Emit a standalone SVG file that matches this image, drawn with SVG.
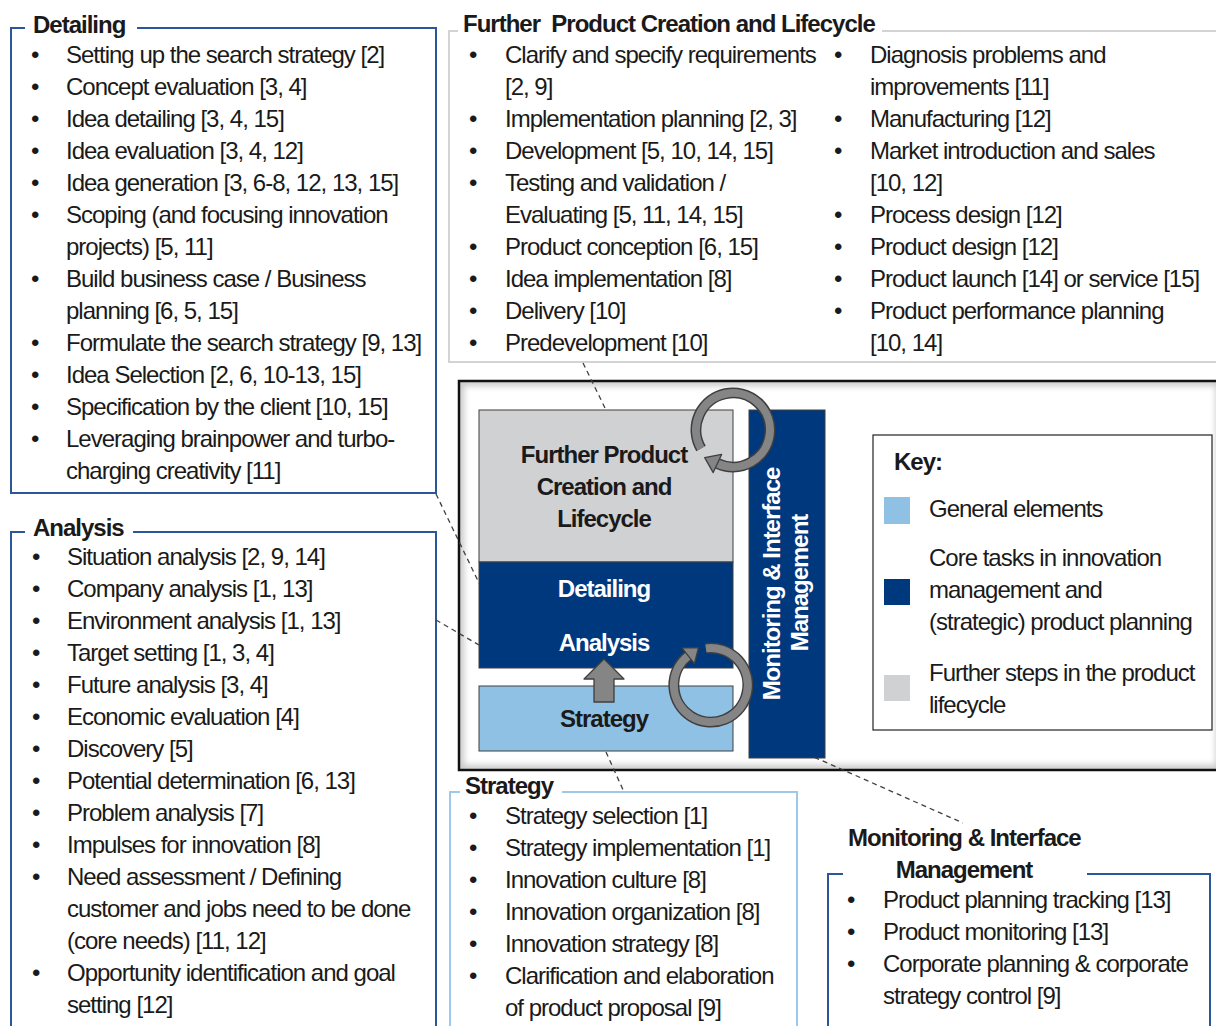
<svg xmlns="http://www.w3.org/2000/svg" width="1216" height="1026" viewBox="0 0 1216 1026">
<style>
text{font-family:"Liberation Sans",Arial,sans-serif;font-size:24px;letter-spacing:-1px;fill:#1a1a1a}
.b{font-weight:bold}
.w{fill:#ffffff}
.m{text-anchor:middle}
.navyline{fill:none;stroke:#2b579a;stroke-width:2}
.grayline{fill:none;stroke:#d3d3d3;stroke-width:2}
.lblueline{fill:none;stroke:#9dc8ea;stroke-width:2}
.dash{fill:none;stroke:#404040;stroke-width:1.3;stroke-dasharray:5 4}
.ringo{fill:none;stroke:#3f3f3f;stroke-width:11}
.ringi{fill:none;stroke:#858585;stroke-width:8}
.head{fill:#858585;stroke:#3f3f3f;stroke-width:1.3;stroke-linejoin:round}
.blk{stroke:#3f3f3f;stroke-width:1}
</style>
<defs>
<filter id="blur" x="-5%" y="-5%" width="110%" height="110%"><feGaussianBlur stdDeviation="3"/></filter>
<clipPath id="frameclip"><rect x="460" y="382" width="760" height="387"/></clipPath>
</defs>
<rect x="0" y="0" width="1216" height="1026" fill="#ffffff"/>

<g id="detailing-panel">
<path class="navyline" d="M25,28 H11 V493 H436 V28 H137"/>
<text class="b" x="33" y="33">Detailing</text>
<g>
<text x="31" y="63">•</text><text x="66" y="63">Setting up the search strategy [2]</text>
<text x="31" y="95">•</text><text x="66" y="95">Concept evaluation [3, 4]</text>
<text x="31" y="127">•</text><text x="66" y="127">Idea detailing [3, 4, 15]</text>
<text x="31" y="159">•</text><text x="66" y="159">Idea evaluation [3, 4, 12]</text>
<text x="31" y="191">•</text><text x="66" y="191">Idea generation [3, 6-8, 12, 13, 15]</text>
<text x="31" y="223">•</text><text x="66" y="223">Scoping (and focusing innovation</text>
<text x="66" y="255">projects) [5, 11]</text>
<text x="31" y="287">•</text><text x="66" y="287">Build business case / Business</text>
<text x="66" y="319">planning [6, 5, 15]</text>
<text x="31" y="351">•</text><text x="66" y="351">Formulate the search strategy [9, 13]</text>
<text x="31" y="383">•</text><text x="66" y="383">Idea Selection [2, 6, 10-13, 15]</text>
<text x="31" y="415">•</text><text x="66" y="415">Specification by the client [10, 15]</text>
<text x="31" y="447">•</text><text x="66" y="447">Leveraging brainpower and turbo-</text>
<text x="66" y="479">charging creativity [11]</text>
</g>
</g>

<g id="analysis-panel">
<path class="navyline" d="M25,532 H11 V1030 M436,1030 V532 H133"/>
<text class="b" x="33" y="536">Analysis</text>
<text x="32" y="565">•</text><text x="67" y="565">Situation analysis [2, 9, 14]</text>
<text x="32" y="597">•</text><text x="67" y="597">Company analysis [1, 13]</text>
<text x="32" y="629">•</text><text x="67" y="629">Environment analysis [1, 13]</text>
<text x="32" y="661">•</text><text x="67" y="661">Target setting [1, 3, 4]</text>
<text x="32" y="693">•</text><text x="67" y="693">Future analysis [3, 4]</text>
<text x="32" y="725">•</text><text x="67" y="725">Economic evaluation [4]</text>
<text x="32" y="757">•</text><text x="67" y="757">Discovery [5]</text>
<text x="32" y="789">•</text><text x="67" y="789">Potential determination [6, 13]</text>
<text x="32" y="821">•</text><text x="67" y="821">Problem analysis [7]</text>
<text x="32" y="853">•</text><text x="67" y="853">Impulses for innovation [8]</text>
<text x="32" y="885">•</text><text x="67" y="885">Need assessment / Defining</text>
<text x="67" y="917">customer and jobs need to be done</text>
<text x="67" y="949">(core needs) [11, 12]</text>
<text x="32" y="981">•</text><text x="67" y="981">Opportunity identification and goal</text>
<text x="67" y="1013">setting [12]</text>
</g>

<g id="further-panel">
<path class="grayline" d="M458,31 H449 V362 H1220 M882,31 H1220"/>
<text class="b" x="463" y="32" xml:space="preserve">Further  Product Creation and Lifecycle</text>
<text x="469" y="63">•</text><text x="505" y="63">Clarify and specify requirements</text>
<text x="505" y="95">[2, 9]</text>
<text x="469" y="127">•</text><text x="505" y="127">Implementation planning [2, 3]</text>
<text x="469" y="159">•</text><text x="505" y="159">Development [5, 10, 14, 15]</text>
<text x="469" y="191">•</text><text x="505" y="191">Testing and validation /</text>
<text x="505" y="223">Evaluating [5, 11, 14, 15]</text>
<text x="469" y="255">•</text><text x="505" y="255">Product conception [6, 15]</text>
<text x="469" y="287">•</text><text x="505" y="287">Idea implementation [8]</text>
<text x="469" y="319">•</text><text x="505" y="319">Delivery [10]</text>
<text x="469" y="351">•</text><text x="505" y="351">Predevelopment [10]</text>
<text x="834" y="63">•</text><text x="870" y="63">Diagnosis problems and</text>
<text x="870" y="95">improvements [11]</text>
<text x="834" y="127">•</text><text x="870" y="127">Manufacturing [12]</text>
<text x="834" y="159">•</text><text x="870" y="159">Market introduction and sales</text>
<text x="870" y="191">[10, 12]</text>
<text x="834" y="223">•</text><text x="870" y="223">Process design [12]</text>
<text x="834" y="255">•</text><text x="870" y="255">Product design [12]</text>
<text x="834" y="287">•</text><text x="870" y="287">Product launch [14] or service [15]</text>
<text x="834" y="319">•</text><text x="870" y="319">Product performance planning</text>
<text x="870" y="351">[10, 14]</text>
</g>

<g id="strategy-panel">
<path class="lblueline" d="M460,792 H450 V1030 M797,1030 V792 H562"/>
<text class="b" x="465" y="794">Strategy</text>
<text x="469" y="824">•</text><text x="505" y="824">Strategy selection [1]</text>
<text x="469" y="856">•</text><text x="505" y="856">Strategy implementation [1]</text>
<text x="469" y="888">•</text><text x="505" y="888">Innovation culture [8]</text>
<text x="469" y="920">•</text><text x="505" y="920">Innovation organization [8]</text>
<text x="469" y="952">•</text><text x="505" y="952">Innovation strategy [8]</text>
<text x="469" y="984">•</text><text x="505" y="984">Clarification and elaboration</text>
<text x="505" y="1016">of product proposal [9]</text>
</g>

<g id="monitoring-panel">
<path class="navyline" d="M843,874 H828 V1030 M1210,1030 V874 H1087"/>
<text class="b" x="848" y="846">Monitoring &amp; Interface</text>
<text class="b m" x="964" y="878">Management</text>
<text x="847" y="908">•</text><text x="883" y="908">Product planning tracking [13]</text>
<text x="847" y="940">•</text><text x="883" y="940">Product monitoring [13]</text>
<text x="847" y="972">•</text><text x="883" y="972">Corporate planning &amp; corporate</text>
<text x="883" y="1004">strategy control [9]</text>
</g>

<g id="model-frame">
<g clip-path="url(#frameclip)"><rect x="460" y="382" width="760" height="387" fill="none" stroke="#c8c8c8" stroke-width="8" filter="url(#blur)"/></g>
<rect x="459" y="381" width="770" height="389" fill="none" stroke="#111111" stroke-width="2.5"/>
</g>

<g id="connectors">
<line class="dash" x1="583" y1="363" x2="606" y2="410"/>
<line class="dash" x1="436" y1="494" x2="480" y2="585"/>
<line class="dash" x1="436" y1="620" x2="479" y2="645"/>
<line class="dash" x1="606" y1="752" x2="624" y2="792"/>
<line class="dash" x1="798" y1="750" x2="963" y2="823"/>
</g>

<g id="node-further">
<rect class="blk" x="479" y="410" width="254" height="152" fill="#d0d1d3"/>
<text class="b m" x="604" y="463">Further Product</text>
<text class="b m" x="604" y="495">Creation and</text>
<text class="b m" x="604" y="527">Lifecycle</text>
</g>
<g id="node-core">
<rect class="blk" x="479" y="562" width="254" height="106" fill="#00387e"/>
<text class="b m w" x="604" y="597">Detailing</text>
<text class="b m w" x="604" y="651">Analysis</text>
</g>
<g id="node-strategy">
<rect class="blk" x="479" y="686" width="254" height="65" fill="#8fc1e4"/>
<text class="b m" x="604" y="727">Strategy</text>
</g>
<g id="node-monitoring">
<rect class="blk" x="749" y="410" width="76" height="348" fill="#00387e"/>
<text class="b m w" transform="translate(780,584) rotate(-90)">Monitoring &amp; Interface</text>
<text class="b m w" transform="translate(808,583) rotate(-90)">Management</text>
</g>

<g id="up-arrow">
<polygon points="604,659 624,679 614,679 614,702 594,702 594,679 584,679" fill="#858585" stroke="#3f3f3f" stroke-width="1.3" stroke-linejoin="round"/>
</g>

<g id="cycle-top">
<path class="ringo" d="M701,448.5 A37,37 0 1 1 717.4,463.5"/>
<path class="ringi" d="M701,448.5 A37,37 0 1 1 717.4,463.5"/>
<polygon class="head" points="704.7,457.6 713.2,472.6 721.6,454.4"/>
</g>
<g id="cycle-bottom">
<path class="ringo" d="M705.9,648.4 A37,37 0 1 1 688.2,655.8"/>
<path class="ringi" d="M705.9,648.4 A37,37 0 1 1 688.2,655.8"/>
<polygon class="head" points="698.4,647.8 682,647.9 694.4,663.7"/>
</g>

<g id="key">
<rect x="873" y="435" width="339" height="295" fill="#ffffff" stroke="#222222" stroke-width="1.2"/>
<text class="b" x="894" y="470">Key:</text>
<rect x="884" y="497" width="26" height="27" fill="#8fc1e4"/>
<text x="929" y="517">General elements</text>
<rect x="884" y="579" width="26" height="26" fill="#00387e"/>
<text x="929" y="566">Core tasks in innovation</text>
<text x="929" y="598">management and</text>
<text x="929" y="630">(strategic) product planning</text>
<rect x="884" y="675" width="26" height="26" fill="#d0d1d3"/>
<text x="929" y="681">Further steps in the product</text>
<text x="929" y="713">lifecycle</text>
</g>
</svg>
